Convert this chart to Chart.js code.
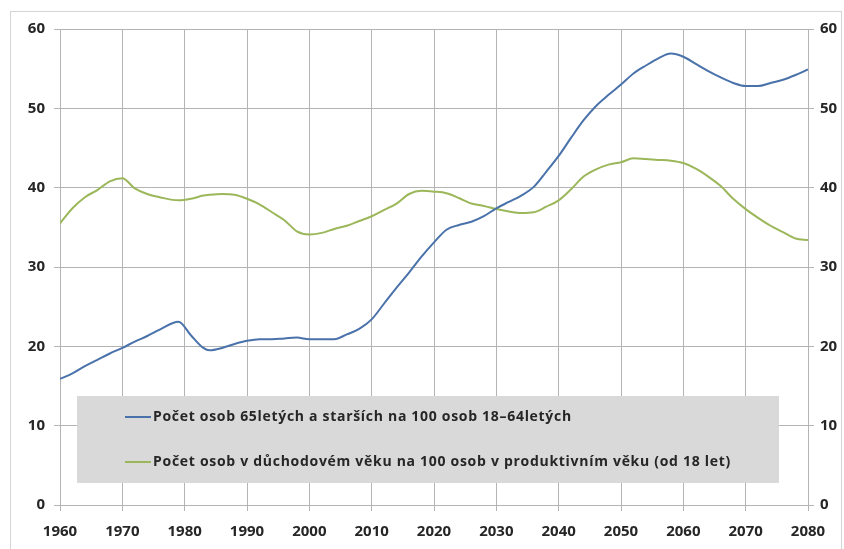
<!DOCTYPE html>
<html>
<head>
<meta charset="utf-8">
<script src="https://cdn.jsdelivr.net/npm/chart.js@4.4.1/dist/chart.umd.min.js"></script>
<style>
  html, body { margin: 0; padding: 0; background: #fff; }
  #wrap { width: 844px; height: 549px; position: relative; }
</style>
</head>
<body>
<div id="wrap"><canvas id="c" width="844" height="549"></canvas></div>
<script>
const years = [1960,1962,1964,1966,1968,1970,1972,1974,1976,1979,1981,1983,1984,1986,1988,1990,1992,1994,1996,1998,2000,2002,2004,2006,2008,2010,2012,2014,2016,2018,2020,2022,2024,2026,2028,2030,2032,2034,2036,2038,2040,2042,2044,2046,2048,2050,2052,2054,2056,2058,2060,2062,2064,2066,2068,2070,2072,2074,2076,2078,2080];

const seniorsPer100 = [15.9,16.6,17.5,18.3,19.1,19.8,20.6,21.3,22.1,23.1,21.4,19.8,19.5,19.8,20.3,20.7,20.9,20.9,21.0,21.1,20.9,20.9,20.9,21.5,22.2,23.4,25.4,27.4,29.3,31.3,33.1,34.7,35.3,35.7,36.4,37.4,38.2,39.0,40.1,42.0,44.0,46.3,48.5,50.3,51.7,53.0,54.4,55.4,56.3,56.9,56.5,55.6,54.7,53.9,53.2,52.8,52.8,53.2,53.6,54.2,54.9];

const retirementAgePer100 = [35.5,37.4,38.8,39.7,40.8,41.2,39.9,39.2,38.8,38.4,38.6,39.0,39.1,39.2,39.1,38.6,37.9,36.9,35.9,34.5,34.1,34.3,34.8,35.2,35.8,36.4,37.2,38.0,39.2,39.6,39.5,39.3,38.7,38.0,37.7,37.3,37.0,36.8,36.9,37.6,38.4,39.8,41.4,42.3,42.9,43.2,43.7,43.6,43.5,43.4,43.1,42.4,41.4,40.2,38.6,37.3,36.2,35.2,34.4,33.6,33.4];

const seriesLabels = [
  "Počet osob 65letých a starších na 100 osob 18–64letých",
  "Počet osob v důchodovém věku na 100 osob v produktivním věku (od 18 let)"
];
const xTicks = [1960,1970,1980,1990,2000,2010,2020,2030,2040,2050,2060,2070,2080];
const yTicks = [0,10,20,30,40,50,60];

const FONT = "'Open Sans', 'Liberation Sans', sans-serif";
const TXT = "#262626";
const GRID = "#b4b4b4";

const frame = {
  id: 'frame',
  beforeDraw(chart) {
    const ctx = chart.ctx;
    ctx.save();
    ctx.fillStyle = '#fff';
    ctx.fillRect(0, 0, chart.width, chart.height);
    ctx.strokeStyle = '#d4d4d4';
    ctx.lineWidth = 1;
    ctx.strokeRect(10.5, 11.5, 831, 560);
    ctx.restore();
  }
};

const legendBox = {
  id: 'legendBox',
  afterDatasetsDraw(chart) {
    const ctx = chart.ctx;
    ctx.save();
    ctx.fillStyle = '#d9d9d9';
    ctx.fillRect(77, 396, 702, 87);
    const rows = [417, 462];
    const targetEnd = [572, 731];
    chart.data.datasets.forEach((ds, i) => {
      const y = rows[i];
      ctx.strokeStyle = ds.borderColor;
      ctx.lineWidth = 2;
      ctx.beginPath();
      ctx.moveTo(125, y);
      ctx.lineTo(151, y);
      ctx.stroke();
      ctx.fillStyle = TXT;
      ctx.font = "bold 14px " + FONT;
      ctx.textBaseline = 'middle';
      ctx.textAlign = 'left';
      ctx.letterSpacing = '0px';
      const w = ctx.measureText(ds.label).width;
      const target = targetEnd[i] - 153;
      const n = ds.label.length;
      ctx.letterSpacing = ((target - w) / n).toFixed(2) + 'px';
      ctx.fillText(ds.label, 153, y);
    });
    ctx.restore();
  }
};

new Chart(document.getElementById('c'), {
  type: 'line',
  data: {
    datasets: [
      {
        label: seriesLabels[0],
        data: years.map((y, i) => ({ x: y, y: seniorsPer100[i] })),
        borderColor: '#4a72aa',
        borderWidth: 2,
        pointRadius: 0,
        cubicInterpolationMode: 'monotone'
      },
      {
        label: seriesLabels[1],
        data: years.map((y, i) => ({ x: y, y: retirementAgePer100[i] })),
        borderColor: '#9bb75a',
        borderWidth: 2,
        pointRadius: 0,
        cubicInterpolationMode: 'monotone'
      }
    ]
  },
  options: {
    responsive: false,
    animation: false,
    devicePixelRatio: 1,
    layout: { padding: { top: 29, left: 0, right: 0, bottom: 0 } },
    plugins: {
      legend: { display: false },
      tooltip: { enabled: false }
    },
    scales: {
      x: {
        type: 'linear',
        min: 1960, max: 2080,
        afterBuildTicks(axis) { axis.ticks = xTicks.map(v => ({ value: v })); },
        afterFit(axis) { axis.height = 44; },
        grid: { color: GRID, tickLength: 6, drawTicks: true },
        border: { color: GRID },
        ticks: { color: TXT, font: { family: FONT, size: 15, weight: 'bold' }, padding: 12, maxRotation: 0, autoSkip: false, callback: v => String(v) }
      },
      y: {
        position: 'left',
        min: 0, max: 60,
        afterBuildTicks(axis) { axis.ticks = yTicks.map(v => ({ value: v })); },
        afterFit(axis) { axis.width = 60; },
        grid: { color: GRID, tickLength: 6 },
        border: { color: GRID },
        ticks: { color: TXT, font: { family: FONT, size: 15, weight: 'bold' }, padding: 9 }
      },
      y2: {
        position: 'right',
        min: 0, max: 60,
        afterBuildTicks(axis) { axis.ticks = yTicks.map(v => ({ value: v })); },
        afterFit(axis) { axis.width = 36; },
        grid: { drawOnChartArea: false, color: GRID, tickLength: 6 },
        border: { color: GRID },
        ticks: { color: TXT, font: { family: FONT, size: 15, weight: 'bold' }, padding: 6 }
      }
    }
  },
  plugins: [frame, legendBox]
});
</script>
</body>
</html>
